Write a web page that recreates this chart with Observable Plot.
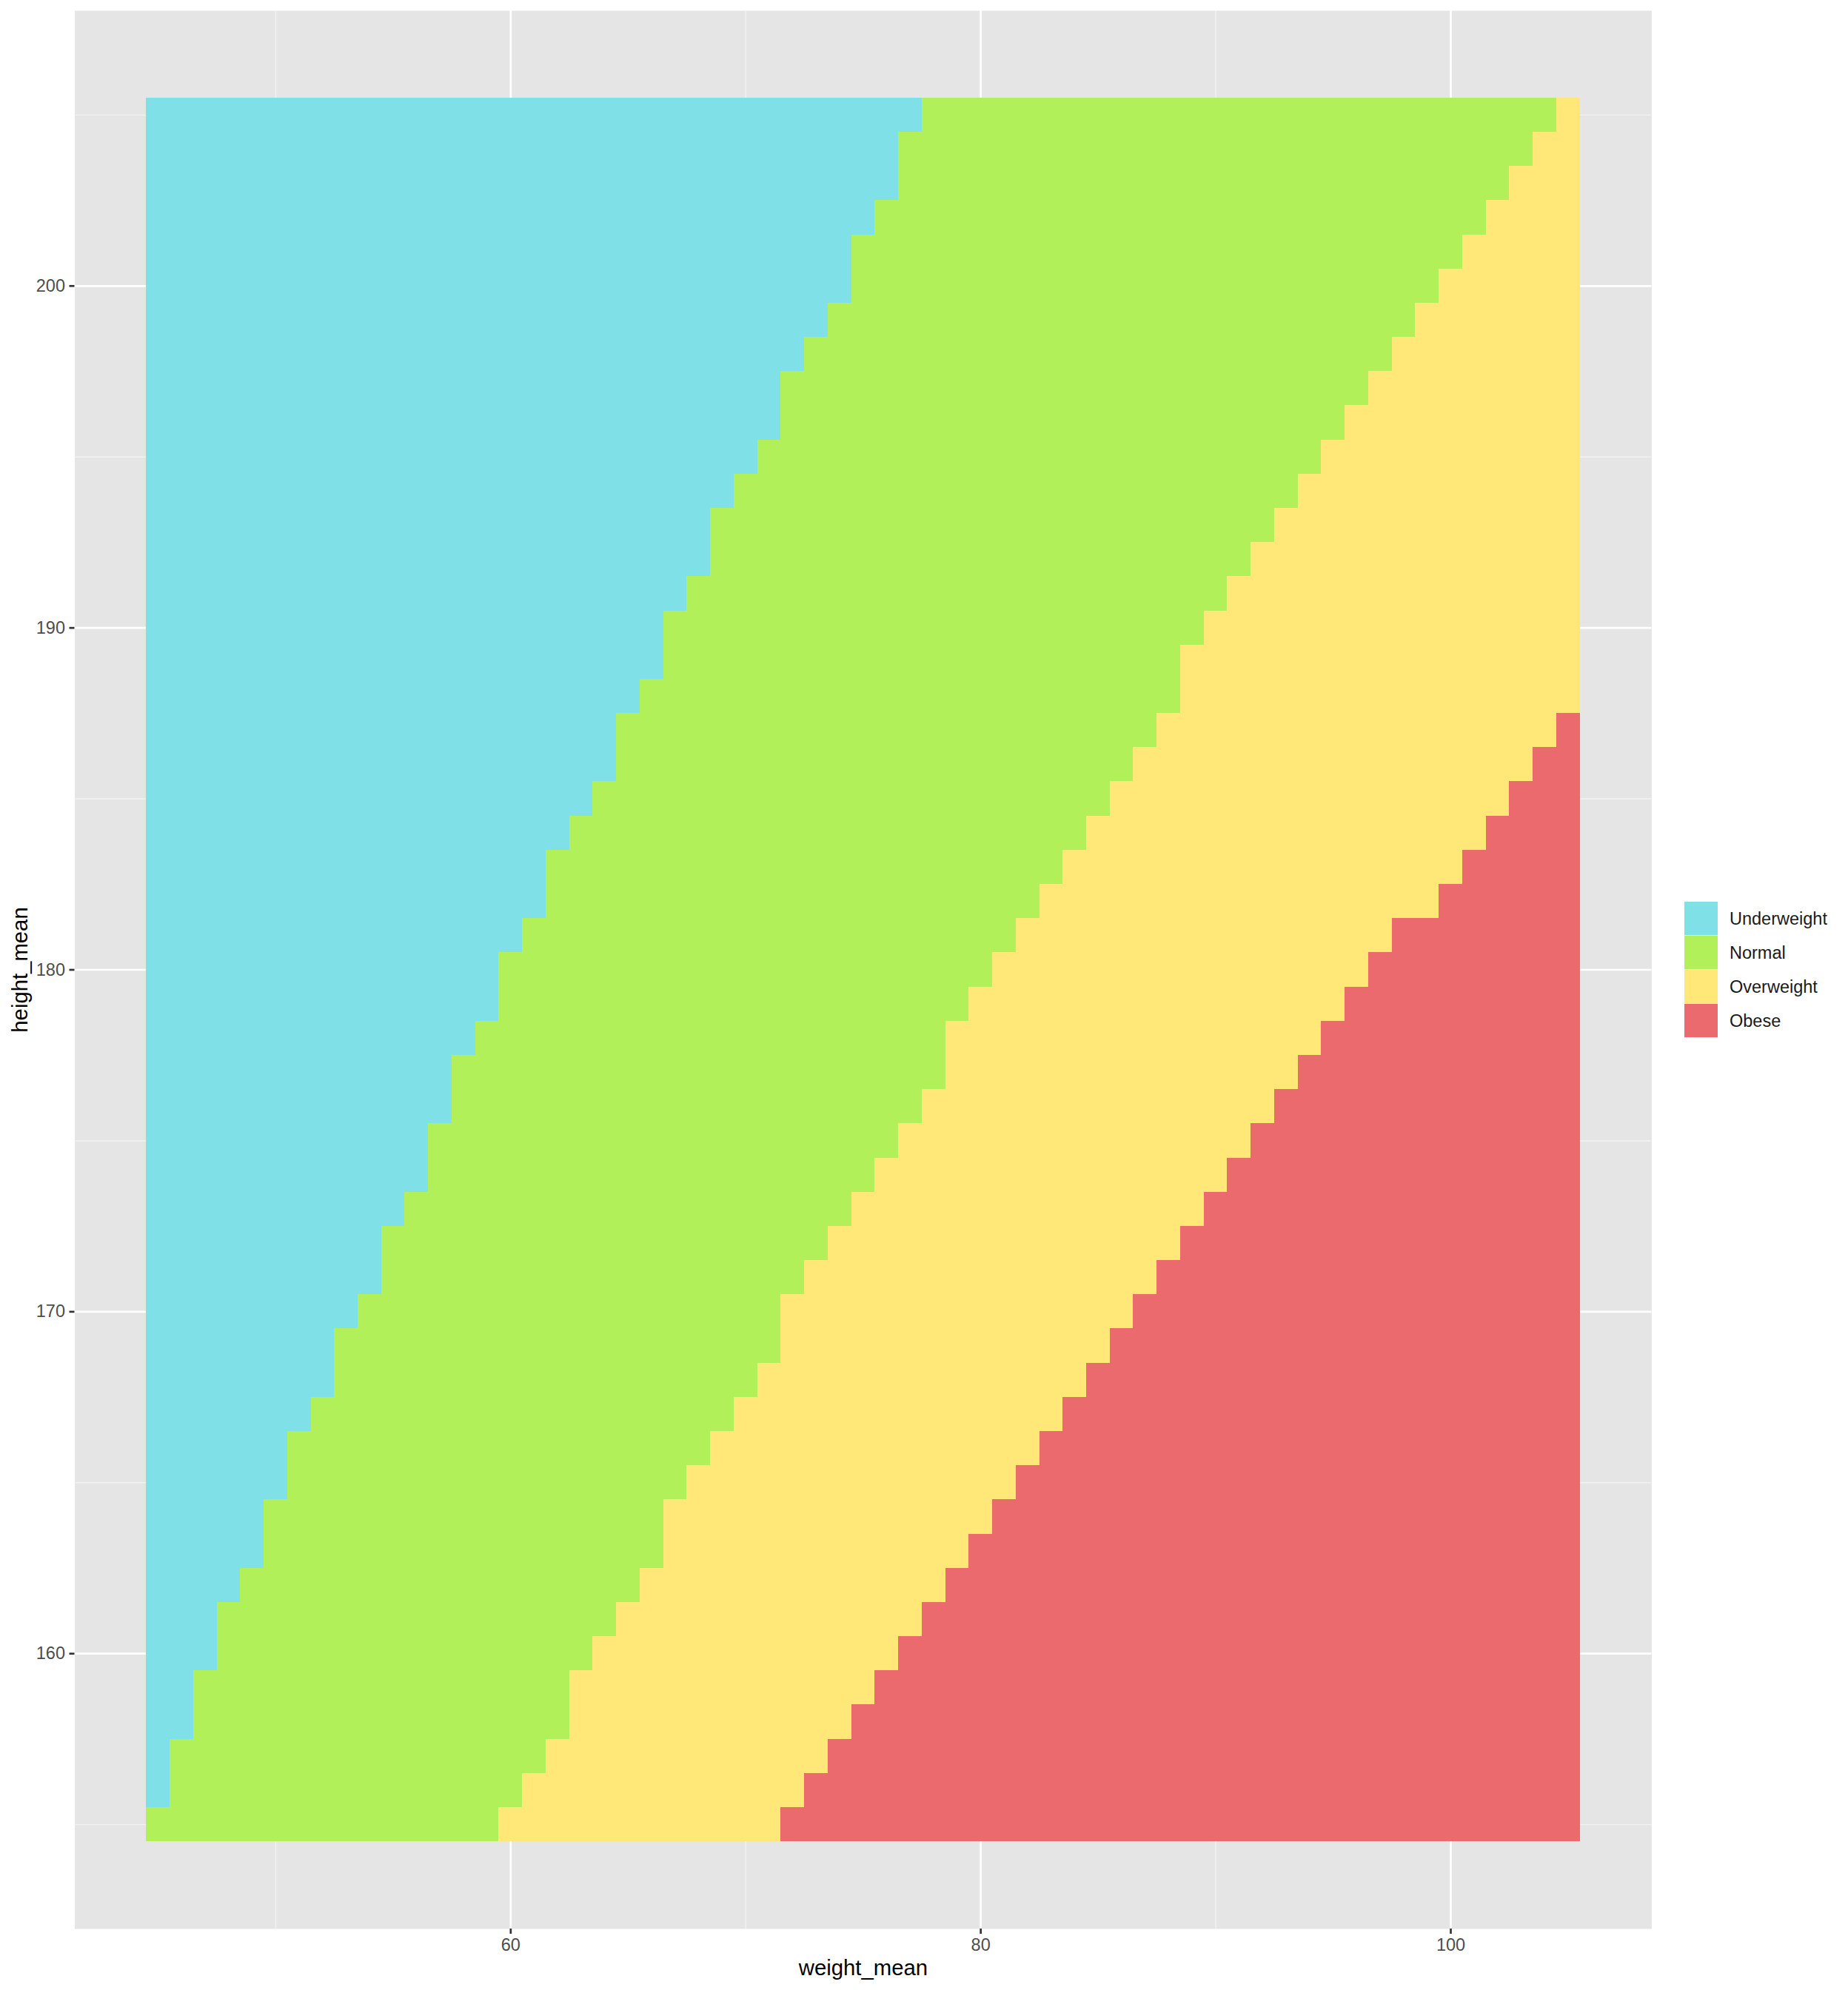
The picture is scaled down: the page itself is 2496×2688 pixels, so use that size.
<!DOCTYPE html>
<html>
<head>
<meta charset="utf-8">
<script src="https://cdn.jsdelivr.net/npm/d3@7"></script>
<script src="https://cdn.jsdelivr.net/npm/@observablehq/plot@0.6"></script>
<style>
  html, body { margin: 0; padding: 0; background: #ffffff; }
  #wrap { position: relative; width: 2496px; height: 2688px; font-family: "Liberation Sans", Arial, sans-serif; }
  #legend { position: absolute; left: 2275px; top: 1218px; }
  .row { display: flex; align-items: center; height: 46px; }
  .key { width: 45px; height: 46px; box-sizing: border-box; border-bottom: 1px solid #f2f2f2; }
  .lab { margin-left: 16px; font-size: 23.5px; color: #1a1a1a; }
</style>
</head>
<body>
<div id="wrap"></div>
<script>
// Categories and colours
const categories = ["Underweight", "Normal", "Overweight", "Obese"];
const colors = ["#80E0E8", "#B2F05A", "#FFE877", "#EB6A6E"];

// Tile grid (weight_mean across, height_mean up)
const weights = [45,46,47,48,49,50,51,52,53,54,55,56,57,58,59,60,61,62,63,64,65,66,67,68,69,70,71,72,73,74,75,76,77,78,79,80,81,82,83,84,85,86,87,88,89,90,91,92,93,94,95,96,97,98,99,100,101,102,103,104,105];
const heights = [155,156,157,158,159,160,161,162,163,164,165,166,167,168,169,170,171,172,173,174,175,176,177,178,179,180,181,182,183,184,185,186,187,188,189,190,191,192,193,194,195,196,197,198,199,200,201,202,203,204,205];

// First weight (per height row) where each category begins
const firstNormal = [45,46,46,47,47,48,48,49,50,50,51,51,52,53,53,54,55,55,56,57,57,58,58,59,60,60,61,62,62,63,64,65,65,66,67,67,68,69,69,70,71,72,72,73,74,75,75,76,77,77,78];
const firstOverweight = [60,61,62,63,63,64,65,66,67,67,68,69,70,71,72,72,73,74,75,76,77,78,79,79,80,81,82,83,84,85,86,87,88,89,89,90,91,92,93,94,95,96,97,98,99,100,101,102,103,104,105];
const firstObese = [72,73,74,75,76,77,78,79,80,81,82,83,84,85,86,87,88,89,90,91,92,93,94,95,96,97,98,100,101,102,103,104,105,null,null,null,null,null,null,null,null,null,null,null,null,null,null,null,null,null,null];

// Axis ticks
const xTicks = [60, 80, 100];
const xMinor = [50, 70, 90];
const yTicks = [160, 170, 180, 190, 200];
const yMinor = [155, 165, 175, 185, 195, 205];

const cells = [];
heights.forEach((h, i) => {
  weights.forEach(w => {
    let c;
    if (firstObese[i] != null && w >= firstObese[i]) c = "Obese";
    else if (w >= firstOverweight[i]) c = "Overweight";
    else if (w >= firstNormal[i]) c = "Normal";
    else c = "Underweight";
    cells.push({weight_mean: w, height_mean: h, bmi: c});
  });
});

const W = 2496, H = 2688;
const mL = 100.5, mR = W - 2230.4, mT = 14, mB = H - 2605;
const font = "'Liberation Sans', Arial, sans-serif";

const plot = Plot.plot({
  width: W,
  height: H,
  marginLeft: mL,
  marginRight: mR,
  marginTop: mT,
  marginBottom: mB,
  style: {fontFamily: font, background: "#ffffff"},
  x: {domain: [41.45, 108.55], axis: null},
  y: {domain: [151.95, 208.05], axis: null},
  color: {domain: categories, range: colors},
  marks: [
    Plot.frame({fill: "#E5E5E5", stroke: null}),
    Plot.ruleX(xMinor, {stroke: "#F2F2F2", strokeWidth: 1.4}),
    Plot.ruleY(yMinor, {stroke: "#F2F2F2", strokeWidth: 1.4}),
    Plot.ruleX(xTicks, {stroke: "#ffffff", strokeWidth: 2.7}),
    Plot.ruleY(yTicks, {stroke: "#ffffff", strokeWidth: 2.7}),
    Plot.rect(cells, {
      x1: d => d.weight_mean - 0.5,
      x2: d => d.weight_mean + 0.5,
      y1: d => d.height_mean - 0.5,
      y2: d => d.height_mean + 0.5,
      fill: "bmi",
      shapeRendering: "crispEdges"
    }),
    Plot.axisX({ticks: xTicks, tickSize: 7, tickPadding: 6, strokeWidth: 2.7, stroke: "#333333", fill: "#4D4D4D", fontSize: 23.5, label: null, tickFormat: d => String(d)}),
    Plot.axisY({ticks: yTicks, tickSize: 7, tickPadding: 6, strokeWidth: 2.7, stroke: "#333333", fill: "#4D4D4D", fontSize: 23.5, label: null, tickFormat: d => String(d)}),
    Plot.text(["weight_mean"], {frameAnchor: "bottom", lineAnchor: "bottom", textAnchor: "middle", dy: 62, fontSize: 29.3, fill: "#000000"}),
    Plot.text(["height_mean"], {frameAnchor: "left", lineAnchor: "bottom", textAnchor: "middle", rotate: -90, dx: -64.5, fontSize: 29.3, fill: "#000000"})
  ]
});

const wrap = document.getElementById("wrap");
wrap.appendChild(plot);

const legend = document.createElement("div");
legend.id = "legend";
categories.forEach((c, i) => {
  const row = document.createElement("div");
  row.className = "row";
  const key = document.createElement("div");
  key.className = "key";
  key.style.background = colors[i];
  const lab = document.createElement("div");
  lab.className = "lab";
  lab.textContent = c;
  row.appendChild(key);
  row.appendChild(lab);
  legend.appendChild(row);
});
wrap.appendChild(legend);
</script>
</body>
</html>
